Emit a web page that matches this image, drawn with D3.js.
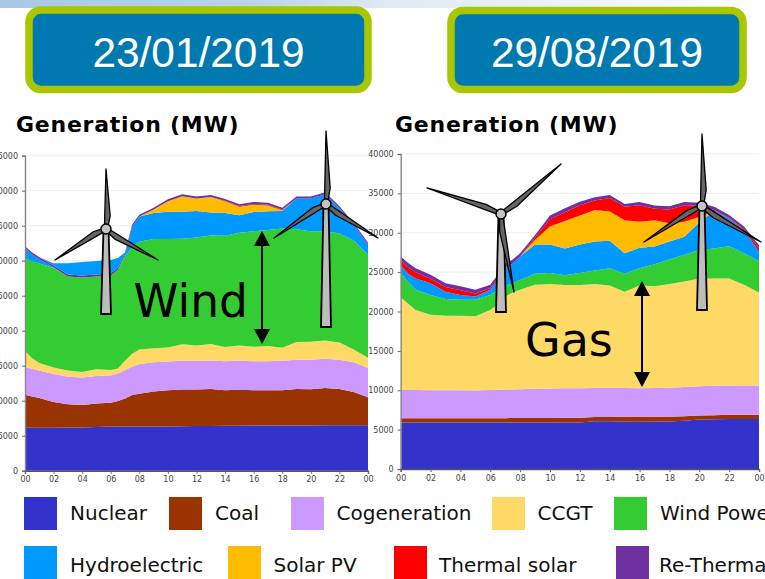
<!DOCTYPE html>
<html><head><meta charset="utf-8">
<style>html,body{margin:0;padding:0;background:#fff;overflow:hidden}svg{display:block}</style>
<script src="https://cdn.jsdelivr.net/npm/d3@7/dist/d3.min.js"></script>
</head><body><svg id="c" width="765" height="579"></svg>
<script>
const seriesNames = ["Nuclear","Coal","Cogeneration","CCGT","Wind Power","Hydroelectric","Solar PV","Thermal solar","Re-Thermal"];
const seriesColors = ["#3333cc","#993300","#cc99ff","#ffd966","#33cc33","#0099ff","#ffbb00","#ff0000","#7030a0"];
const hours = [0,.5,1,2,3,4,5,6,6.5,7,7.5,8,9,10,11,12,13,14,15,16,17,18,19,20,21,22,23,24];
const hourTicks = [0,2,4,6,8,10,12,14,16,18,20,22,24];
const dates = ["23/01/2019","29/08/2019"];

// 23/01/2019
const nuclearJan = [6140,6150,6150,6150,6160,6170,6230,6300,6310,6330,6330,6330,6330,6330,6340,6380,6400,6430,6430,6450,6450,6450,6450,6450,6480,6480,6480,6480];
const coalJan = [4720,4450,4250,3650,3320,3210,3370,3400,3640,3970,4470,4670,5000,5170,5260,5220,5270,5070,5140,5050,5050,5050,5220,5170,5320,5190,4760,4000];
const cogenJan = [3940,3950,3900,4000,3950,3950,3920,3900,3950,4100,4060,4240,4170,4100,4100,4100,4080,4150,4130,4150,4150,4200,4180,4230,4200,4180,4240,4190];
const ccgtJan = [2300,1500,1100,960,900,770,980,800,700,1300,1840,2090,2000,2000,2350,2200,2350,2020,2200,2050,2150,1870,2550,2580,2600,2450,1820,1470];
const windJan = [13280,13850,14200,14240,13420,13500,13250,13500,14100,14900,15300,15370,15600,15500,15100,15400,15500,15880,16100,16500,16600,17030,16100,15770,15600,15600,15600,14660];
const hydroJan = [1420,1000,600,50,0,0,0,0,0,300,2900,3600,3700,3900,3850,3800,3300,3250,2500,2750,2650,2500,4400,4700,5300,3600,2200,1500];
const solarJan = [0,0,0,0,0,0,0,0,0,0,0,0,500,1500,2200,1800,2200,1700,1200,1050,850,100,0,0,0,0,0,0];
const thermalJan = [0,0,0,0,0,0,0,0,0,0,0,0,0,0,0,0,0,50,100,100,100,100,0,0,0,0,0,0];
const reJan = [280,280,280,280,280,280,280,280,280,280,280,280,280,280,280,280,280,280,280,280,280,280,280,280,280,280,280,280];
const nightHydroJan = [0,0,0,300,1620,1920,1920,1920,1420,20,0,0,0,0,0,0,0,0,0,0,0,0,0,0,0,0,0,0];

// 29/08/2019
const nuclearAug = [5890,5890,5890,5890,5890,5890,5890,5890,5890,5890,5890,5890,5890,5890,5890,5890,6060,6050,6030,6010,6020,6040,6120,6280,6320,6350,6360,6360];
const coalAug = [550,550,560,560,570,560,560,570,570,570,580,580,590,600,610,620,540,550,590,630,620,610,580,500,520,530,540,540];
const cogenAug = [3600,3590,3570,3550,3550,3550,3530,3570,3590,3620,3630,3660,3700,3730,3740,3740,3680,3690,3650,3610,3640,3670,3700,3720,3720,3720,3700,3700];
const ccgtAug = [11760,10970,10180,9600,9440,9450,9420,10170,10850,11820,12300,12620,13220,13280,13110,13100,13220,13010,12230,13050,12920,13180,13400,13700,13640,13600,12800,11800];
const windAug = [3100,2700,2550,2500,2150,2050,2100,1900,1800,1300,1200,1250,1400,1400,1250,1550,1700,2200,2300,2200,2800,3100,3400,3600,3800,4100,4000,3950];
const hydroAug = [1000,1100,1450,1500,900,600,400,650,1300,2300,2500,3000,3700,3600,3400,3600,3700,3500,2600,2600,2250,2300,2300,3500,4800,3500,2900,1250];
const solarAug = [0,0,0,0,0,0,0,0,0,0,0,0,600,2300,3500,3700,4000,3700,4200,3300,3350,2300,1900,700,0,0,0,0];
const thermalAug = [600,800,800,550,600,600,400,250,100,100,0,0,300,900,1100,1300,1200,1700,1700,2100,1450,1750,2100,1400,100,100,150,400];
const reAug = [500,550,500,510,500,500,450,400,560,500,500,400,300,500,500,450,400,400,350,400,400,400,400,400,400,350,350,400];
const nightHydroAug = hours.map(() => 0);

const svg = d3.select("#c");
const defs = svg.append("defs");
const g = defs.append("linearGradient").attr("id","band");
[[0,"#a9c8e6"],[.33,"#b9d3ea"],[.5,"#dfe9f3"],[.75,"#edf2f8"],[1,"#ffffff"]].forEach(([o,c]) => g.append("stop").attr("offset",o).attr("stop-color",c));
svg.append("rect").attr("width",765).attr("height",8).attr("fill","url(#band)");

function header(x,y,w,h,label){
  svg.append("rect").attr("x",x).attr("y",y).attr("width",w).attr("height",h).attr("rx",12)
    .attr("fill","#0079b0").attr("stroke","#a9c600").attr("stroke-width",7.5);
  svg.append("text").attr("x",x+w/2).attr("y",66.5).attr("text-anchor","middle")
    .attr("font-family","Liberation Sans").attr("font-size",42.4).attr("fill","#fff").text(label);
}
header(29,10,339,79.5,dates[0]);
header(451,10.5,292,79,dates[1]);

function chart(cfg){
  const x = d3.scaleLinear().domain([0,24]).range([cfg.x0,cfg.x1]);
  const y = d3.scaleLinear().domain([0,cfg.max]).range([cfg.y0,cfg.y1]);
  const root = svg.append("g");
  root.append("text").attr("x",cfg.titleX).attr("y",131.5).attr("font-family","DejaVu Sans").attr("font-weight","bold")
    .attr("font-size",22).attr("letter-spacing",0.75).attr("fill","#000").text("Generation (MW)");
  root.append("g").selectAll("line").data(d3.range(5000,cfg.max+1,5000)).join("line")
    .attr("x1",cfg.x0).attr("x2",cfg.x1).attr("y1",d=>y(d)).attr("y2",d=>y(d)).attr("stroke","#eeeeee");
  const table = hours.map((h,i)=>{ const o={h}; cfg.series.forEach((s,k)=>o[k]=s[i]); return o; });
  const keys = cfg.series.map((_,k)=>k);
  const stacked = d3.stack().keys(keys)(table);
  const area = d3.area().x(d=>x(d.data.h)).y0(d=>y(d[0])).y1(d=>y(d[1]));
  root.append("g").selectAll("path").data(stacked).join("path")
    .attr("fill",(d,i)=>seriesColors[i] || seriesColors[5]).attr("d",area);
  const ax = root.append("g").attr("transform",`translate(${cfg.x0},0)`)
    .call(d3.axisLeft(y).tickValues(d3.range(0,cfg.max+1,5000)).tickFormat(d3.format("d")).tickSize(3).tickPadding(4));
  const bx = root.append("g").attr("transform",`translate(0,${cfg.y0})`)
    .call(d3.axisBottom(x).tickValues(hourTicks).tickFormat(d=>d3.format("02d")(d%24)).tickSize(3).tickPadding(3));
  [ax,bx].forEach(a=>{
    a.selectAll("text").attr("font-family","DejaVu Sans").attr("font-size",8).attr("fill","#444");
    a.selectAll("line").attr("stroke","#666");
    a.select(".domain").attr("stroke",a===ax?"#888":"#555").attr("stroke-width",1.4);
  });
}
chart({x0:25,x1:368,y0:470.7,y1:155.7,max:45000,titleX:16,
  series:[nuclearJan,coalJan,cogenJan,ccgtJan,windJan,hydroJan,solarJan,thermalJan,reJan,nightHydroJan]});
chart({x0:400.7,x1:759,y0:469,y1:154,max:40000,titleX:395,
  series:[nuclearAug,coalAug,cogenAug,ccgtAug,windAug,hydroAug,solarAug,thermalAug,reAug,nightHydroAug]});

function blade(hx,hy,tx,ty){
  const dx=tx-hx, dy=ty-hy, L=Math.hypot(dx,dy), ux=dx/L, uy=dy/L, nx=-uy, ny=ux, w=4.2, s=.22*L;
  return [[hx+nx*1.5,hy+ny*1.5],[hx+ux*s+nx*w,hy+uy*s+ny*w],[tx,ty],[hx+ux*s-nx*w*.3,hy+uy*s-ny*w*.3],[hx-nx*1.5,hy-ny*1.5]];
}
function turbine(t){
  const gT = svg.append("g");
  gT.append("path").attr("d",d3.line()([[t.hx-2.5,t.hy],[t.hx+2.5,t.hy],[t.hx+5,t.base],[t.hx-5,t.base]])+"Z")
    .attr("fill","#bdbdbd").attr("stroke","#000").attr("stroke-width",1.8);
  t.tips.forEach(([a,b])=>{
    gT.append("path").attr("d",d3.line()(blade(t.hx,t.hy,a,b))+"Z").attr("fill","#666").attr("stroke","#000").attr("stroke-width",1.3).attr("stroke-linejoin","round");
  });
  gT.append("circle").attr("cx",t.hx).attr("cy",t.hy).attr("r",5).attr("fill","#c4c4c4").attr("stroke","#000").attr("stroke-width",1.5);
}
[{hx:106,hy:229,base:314,tips:[[106,169],[55,260],[158,260]]},
 {hx:326,hy:204,base:327,tips:[[326,131],[274,238],[378,238]]},
 {hx:501,hy:214,base:312,tips:[[427,188],[561,164],[514,292]]},
 {hx:702,hy:206,base:310,tips:[[702,134],[644,242],[761,242]]}].forEach(turbine);

function arrow(ax,y1,y2){
  const a = svg.append("g");
  a.append("line").attr("x1",ax).attr("x2",ax).attr("y1",y1+10).attr("y2",y2-10).attr("stroke","#000").attr("stroke-width",2);
  a.append("path").attr("d",d3.line()([[ax,y1],[ax-8,y1+15],[ax+8,y1+15]])+"Z").attr("fill","#000");
  a.append("path").attr("d",d3.line()([[ax,y2],[ax-8,y2-15],[ax+8,y2-15]])+"Z").attr("fill","#000");
}
arrow(262,231,344);
arrow(642,281,387);
svg.append("text").attr("x",133.5).attr("y",317).attr("font-family","DejaVu Sans").attr("font-size",45.5).attr("fill","#000").text("Wind");
svg.append("text").attr("x",525).attr("y",355.5).attr("font-family","DejaVu Sans").attr("font-size",46).attr("fill","#000").text("Gas");

const legendRows = [
 [[0,24,70],[1,169,215],[2,291,336.5],[3,492,537.5],[4,614,660]],
 [[5,24,70],[6,228,273.5],[7,394,439],[8,616,659]]
];
legendRows.forEach((row,r)=>row.forEach(([k,sx,tx])=>{
  svg.append("rect").attr("x",sx).attr("y",r?546:497).attr("width",33).attr("height",33).attr("fill",seriesColors[k]);
  svg.append("text").attr("x",tx).attr("y",r?572:520).attr("font-family","DejaVu Sans").attr("font-size",20).attr("fill","#111").text(seriesNames[k]);
}));
</script></body></html>
